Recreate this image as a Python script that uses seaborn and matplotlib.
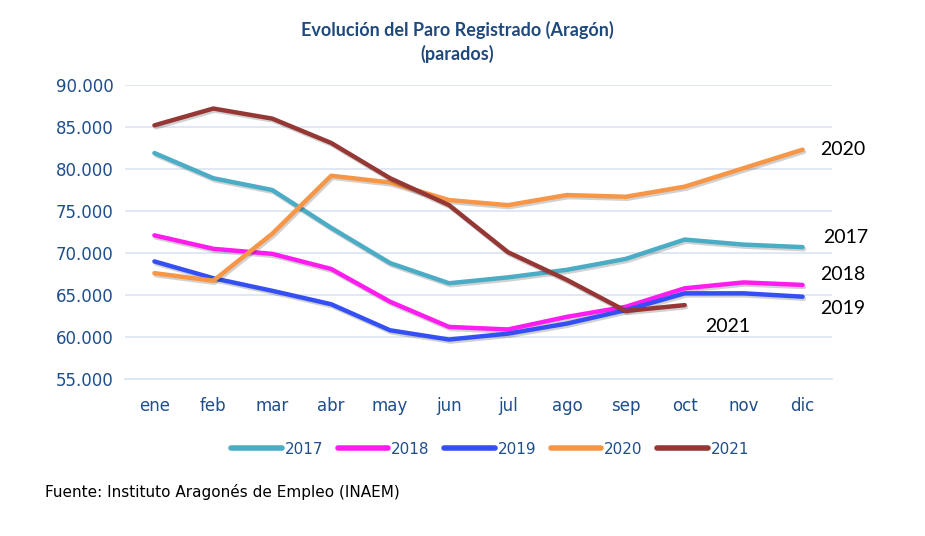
import matplotlib
matplotlib.use("Agg")
import matplotlib.pyplot as plt
import matplotlib.patheffects as pe
import matplotlib.ticker as mticker
import pandas as pd
import seaborn as sns

# Datos (parados registrados, Aragón)
meses = ['ene', 'feb', 'mar', 'abr', 'may', 'jun',
         'jul', 'ago', 'sep', 'oct', 'nov', 'dic']
paro_2017 = [81900, 78900, 77500, 73000, 68800, 66400,
             67100, 68000, 69300, 71600, 71000, 70700]
paro_2018 = [72100, 70500, 69900, 68100, 64200, 61200,
             60900, 62400, 63600, 65800, 66500, 66200]
paro_2019 = [69000, 67000, 65500, 63900, 60800, 59700,
             60400, 61600, 63200, 65200, 65200, 64800]
paro_2020 = [67600, 66700, 72300, 79200, 78400, 76300,
             75700, 76900, 76700, 77900, 80100, 82300]
paro_2021 = [85200, 87200, 86000, 83100, 78900, 75700,
             70100, 66800, 63100, 63800]
anios = ['2017', '2018', '2019', '2020', '2021']

colores = {'2017': '#4BACC6', '2018': '#FF1CF0', '2019': '#3450F5',
           '2020': '#F79646', '2021': '#953735'}

# Tabla larga para seaborn
series = [paro_2017, paro_2018, paro_2019, paro_2020, paro_2021]
filas = []
for anio, valores in zip(anios, series):
    for i, v in enumerate(valores):
        filas.append({'mes': i, 'anio': anio, 'parados': v})
df = pd.DataFrame(filas)

sns.set_style('white')
plt.rcParams['font.family'] = ['DejaVu Sans']

fig = plt.figure(figsize=(9.25, 5.36), dpi=100)
ax = fig.add_axes([0.1351, 0.2929, 0.7644, 0.5485])

sns.lineplot(data=df, x='mes', y='parados', hue='anio', palette=colores,
             linewidth=3.2, ax=ax, legend=False)
for ln in ax.get_lines():
    ln.set_solid_capstyle('round')
    ln.set_solid_joinstyle('round')
    ln.set_path_effects([pe.SimpleLineShadow(offset=(1, -1.5), alpha=0.18),
                         pe.Normal()])

ax.set_xlim(-0.5, 11.5)
ax.set_ylim(55000, 90000)
ax.set_xticks(range(12))
ax.set_xticklabels(meses)
ax.set_yticks(range(55000, 90001, 5000))
ax.yaxis.set_major_formatter(
    mticker.FuncFormatter(lambda v, p: f'{int(v):,}'.replace(',', '.')))

azul = '#1F4E8C'
ax.tick_params(axis='both', length=0, labelsize=12, labelcolor=azul)
ax.tick_params(axis='y', pad=8)
ax.tick_params(axis='x', pad=13)
ax.grid(axis='y', color='#DCE6F2', linewidth=1.3)
ax.set_axisbelow(True)
for s in ['top', 'right', 'left']:
    ax.spines[s].set_visible(False)
ax.spines['bottom'].set_color('#DCE6F2')
ax.spines['bottom'].set_linewidth(1.3)
ax.set_xlabel('')
ax.set_ylabel('')

# Etiquetas de cada serie a la derecha
etiquetas = {'2020': (11.3, 82300), '2017': (11.35, 71800),
             '2018': (11.3, 67400), '2019': (11.3, 63450),
             '2021': (9.35, 61300)}
for anio, (xe, ye) in etiquetas.items():
    ax.text(xe, ye, anio, fontsize=14, family='Lato', color='black',
            va='center', ha='left', clip_on=False)

fig.text(0.494, 0.945, 'Evolución del Paro Registrado (Aragón)',
         ha='center', va='center', fontsize=13, fontweight='bold',
         family='Lato', color='#1F497D')
fig.text(0.494, 0.9, '(parados)', ha='center', va='center',
         fontsize=13, fontweight='bold', family='Lato', color='#1F497D')

# Leyenda inferior
handles = [plt.Line2D([0], [0], color=colores[a], linewidth=4,
                      solid_capstyle='round') for a in anios]
leg = fig.legend(handles, anios, loc='center', bbox_to_anchor=(0.53, 0.162),
                 ncol=5, frameon=False, fontsize=11, handlelength=3.3,
                 handletextpad=0.2, columnspacing=0.95)
for t in leg.get_texts():
    t.set_color(azul)

fig.text(0.049, 0.082, 'Fuente: Instituto Aragonés de Empleo (INAEM)',
         ha='left', va='center', fontsize=11, color='black')

fig.savefig('out.png', dpi=100)
